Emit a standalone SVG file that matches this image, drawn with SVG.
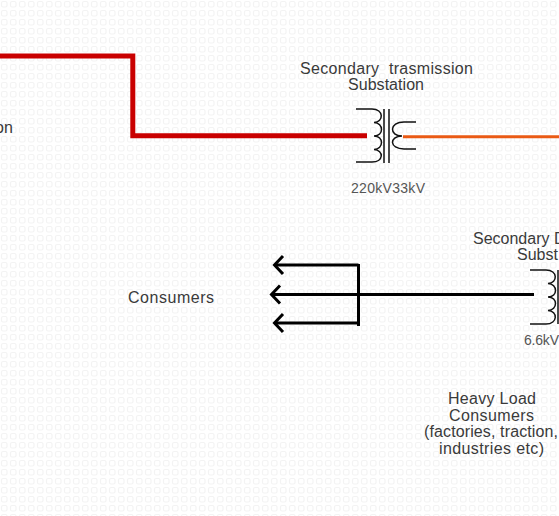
<svg xmlns="http://www.w3.org/2000/svg" width="559" height="516" viewBox="0 0 559 516">
<style>
text{font-family:"Liberation Sans",Arial,sans-serif;font-size:16px;fill:#3a3a3a;text-anchor:middle}
.s{font-size:14px;fill:#555}
.c{fill:none;stroke:#111;stroke-width:1.5}
.k{fill:none;stroke:#000;stroke-width:3}
</style>
<defs><pattern id="bg" width="9" height="9" patternUnits="userSpaceOnUse"><rect x="1.500" y="1.500" width="5.500" height="5.500" rx="1.500" fill="none" stroke="#f3f3f3" stroke-width="1.200"/></pattern></defs>
<rect width="559" height="516" fill="#fff"/>
<rect width="559" height="516" fill="url(#bg)"/>
<g id="connectors">
<path d="M0 56H132.800V135.800H367" fill="none" stroke="#c90000" stroke-width="5"/>
<path d="M403 136.800H559" fill="none" stroke="#ea5a14" stroke-width="3"/>
<path class="k" d="M272 294.500H534M276 265H358.500M276 323H358.500M358.500 264V326"/>
<path class="k" d="M283 256L274.500 265L283 274M280 285.500L271.500 294.500L280 303.500M283 314L274.500 323L283 332"/>
</g>
<g id="transformer-1">
<path class="c" d="M356 109H372C384 109 384 122 374 122.500C384 123 384 136 374 136C384 136 384 149 374 149.500C384 150 384 162 372 162H356"/>
<path class="c" d="M384 109V163M389 109V163"/>
<path class="c" d="M416 122H404C389 122 389 136 402 136C389 136 389 149 404 149H416"/>
<text x="386.500" y="74" xml:space="preserve" textLength="173" lengthAdjust="spacing">Secondary  trasmission</text>
<text x="386" y="90" textLength="76" lengthAdjust="spacing">Substation</text>
<text class="s" x="388" y="193" textLength="74" lengthAdjust="spacing">220kV33kV</text>
</g>
<g id="transformer-2">
<path class="c" d="M530 270H546C558 270 558 283 548 283.500C558 284 558 297 548 297C558 297 558 310 548 310.500C558 311 558 324 546 324H530"/>
<path class="c" d="M558 270V324"/>
<text x="473" y="244" style="text-anchor:start">Secondary D</text>
<text x="517" y="260" style="text-anchor:start">Subst</text>
<text class="s" x="524" y="345" style="text-anchor:start" textLength="35" lengthAdjust="spacing">6.6kV</text>
</g>
<g id="consumers"><text x="171" y="302.500" textLength="86" lengthAdjust="spacing">Consumers</text></g>
<g id="heavy-load">
<text x="492" y="404" textLength="88" lengthAdjust="spacing">Heavy Load</text>
<text x="491.500" y="420.500" textLength="85" lengthAdjust="spacing">Consumers</text>
<text x="491" y="437" textLength="134" lengthAdjust="spacing">(factories, traction,</text>
<text x="491.500" y="454" textLength="105" lengthAdjust="spacing">industries etc)</text>
</g>
<g id="left-label"><text x="-5" y="133" style="text-anchor:start">on</text></g>
</svg>
